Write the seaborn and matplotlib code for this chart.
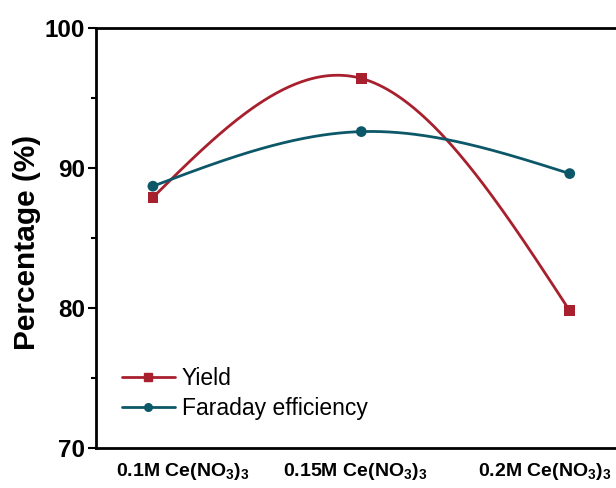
import numpy as np
import pandas as pd
import matplotlib
matplotlib.use("Agg")
import matplotlib.pyplot as plt
import matplotlib.transforms as mtransforms
import seaborn as sns

categories = ["0.1M Ce(NO$_\\mathbf{3}$)$_\\mathbf{3}$",
              "0.15M Ce(NO$_\\mathbf{3}$)$_\\mathbf{3}$",
              "0.2M Ce(NO$_\\mathbf{3}$)$_\\mathbf{3}$"]
yield_vals = [87.9, 96.4, 79.8]
faraday_vals = [88.7, 92.6, 89.6]
series_names = ["Yield", "Faraday efficiency"]

sns.set_style("ticks")
plt.rcParams['font.family'] = ['Liberation Sans', 'DejaVu Sans']
plt.rcParams['mathtext.fontset'] = 'custom'
plt.rcParams['mathtext.rm'] = 'Liberation Sans:bold'
plt.rcParams['mathtext.bf'] = 'Liberation Sans:bold'
plt.rcParams['mathtext.default'] = 'bf'
for k in ['text.color', 'axes.labelcolor', 'xtick.color', 'ytick.color', 'axes.edgecolor']:
    plt.rcParams[k] = 'black'

RED = "#A8202E"
TEAL = "#0C5868"


def natural_spline(xs, ys, n=200):
    xs = np.asarray(xs, float); ys = np.asarray(ys, float)
    k = len(xs)
    h = np.diff(xs)
    A = np.zeros((k, k)); b = np.zeros(k)
    A[0, 0] = 1; A[-1, -1] = 1
    for i in range(1, k - 1):
        A[i, i - 1] = h[i - 1]
        A[i, i] = 2 * (h[i - 1] + h[i])
        A[i, i + 1] = h[i]
        b[i] = 6 * ((ys[i + 1] - ys[i]) / h[i] - (ys[i] - ys[i - 1]) / h[i - 1])
    M = np.linalg.solve(A, b)
    xx = np.linspace(xs[0], xs[-1], n)
    yy = np.empty_like(xx)
    for j, x in enumerate(xx):
        i = min(np.searchsorted(xs, x, side='right') - 1, k - 2)
        hi = h[i]
        t1 = xs[i + 1] - x; t0 = x - xs[i]
        yy[j] = (M[i] * t1**3 / (6 * hi) + M[i + 1] * t0**3 / (6 * hi)
                 + (ys[i] / hi - M[i] * hi / 6) * t1
                 + (ys[i + 1] / hi - M[i + 1] * hi / 6) * t0)
    return xx, yy


fig = plt.figure(figsize=(6.16, 4.88), dpi=100)
ax = fig.add_axes([96 / 616, 1 - 448 / 488, (626 - 96) / 616, (448 - 28) / 488])

x = np.arange(len(categories))
df = pd.DataFrame({
    "x": np.concatenate([x, x]),
    "value": yield_vals + faraday_vals,
    "series": [series_names[0]] * 3 + [series_names[1]] * 3,
})

for name, vals, col in [(series_names[0], yield_vals, RED),
                        (series_names[1], faraday_vals, TEAL)]:
    xx, yy = natural_spline(x, vals)
    ax.plot(xx, yy, color=col, lw=2, zorder=2)

sns.scatterplot(data=df, x="x", y="value", hue="series", style="series",
                markers={series_names[0]: "s", series_names[1]: "o"},
                palette={series_names[0]: RED, series_names[1]: TEAL},
                s=60, edgecolor="none", legend=False, ax=ax, zorder=3)

from matplotlib.lines import Line2D
handles = [Line2D([], [], color=RED, lw=2, marker="s", markersize=5.5),
           Line2D([], [], color=TEAL, lw=2, marker="o", markersize=5.5)]
ax.legend(handles, series_names, loc="upper left", bbox_to_anchor=(0.049, 0.193),
          frameon=False, fontsize=16.5, handlelength=2.3, handletextpad=0.3,
          labelspacing=0.3, borderaxespad=0, borderpad=0)

ax.set_xlim(-0.273, 2.27)
ax.set_ylim(70, 100)
ax.set_xticks(x)
ax.set_xticklabels(categories, fontsize=14, fontweight="bold")
ax.tick_params(axis='x', length=0, pad=9)
offsets_px = [30, -6, -25]
for lab, dx in zip(ax.get_xticklabels(), offsets_px):
    lab.set_transform(lab.get_transform() +
                      mtransforms.ScaledTranslation(dx / 100, 0, fig.dpi_scale_trans))
ax.set_yticks([70, 80, 90, 100])
ax.set_yticks([75, 85, 95], minor=True)
ax.tick_params(axis='y', which='major', direction='out', length=6, width=1.5,
               labelsize=17.5, pad=2)
ax.tick_params(axis='y', which='minor', direction='out', length=3.5, width=1.5)
for lab in ax.get_yticklabels():
    lab.set_fontweight("bold")
ax.set_xlabel("")
ax.set_ylabel("Percentage (%)", fontsize=21.5, fontweight="bold")
ax.yaxis.set_label_coords(-0.104, 0.49)
for sp in ["left", "top", "bottom"]:
    ax.spines[sp].set_linewidth(2)
ax.spines["right"].set_visible(False)

fig.savefig("out.png", dpi=100)
